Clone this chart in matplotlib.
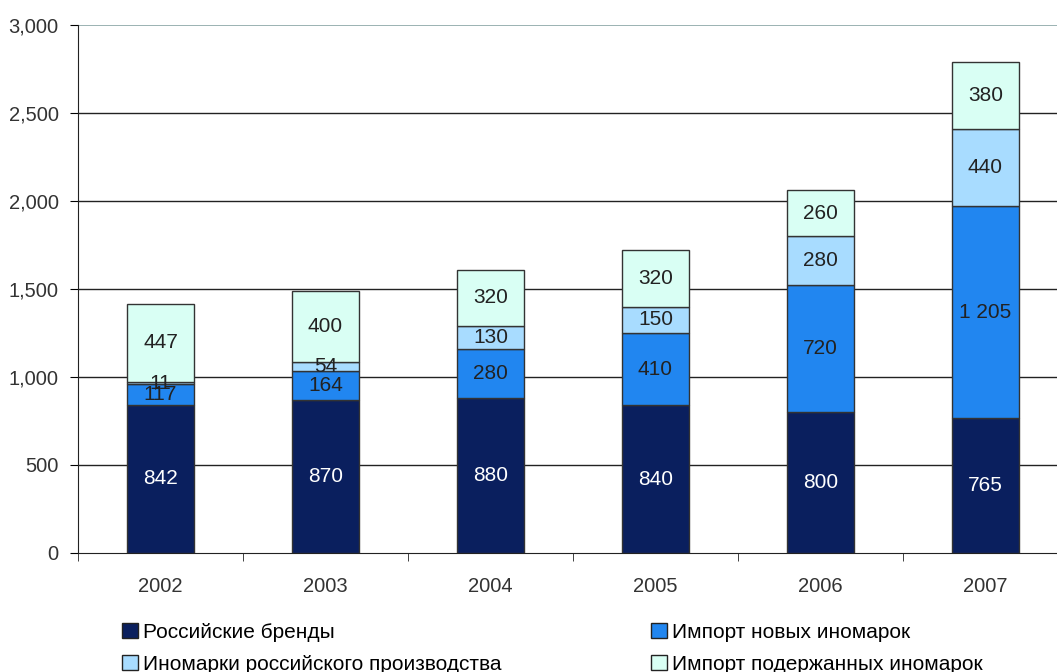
import matplotlib.pyplot as plt
import numpy as np
from matplotlib.patches import Patch
from matplotlib.ticker import FuncFormatter

plt.rcParams['font.family'] = ['Liberation Sans', 'DejaVu Sans']

years = ['2002', '2003', '2004', '2005', '2006', '2007']
ru_brands = [842, 870, 880, 840, 800, 765]
new_imports = [117, 164, 280, 410, 720, 1205]
ru_made_foreign = [11, 54, 130, 150, 280, 440]
used_imports = [447, 400, 320, 320, 260, 380]

series = [
    ('Российские бренды', ru_brands, '#0a1f5e', 'white'),
    ('Импорт новых иномарок', new_imports, '#2186f0', '#222222'),
    ('Иномарки российского производства', ru_made_foreign, '#a8dcff', '#222222'),
    ('Импорт подержанных иномарок', used_imports, '#d9fff4', '#222222'),
]
value_labels = {
    'Импорт новых иномарок': ['117', '164', '280', '410', '720', '1 205'],
}

fig = plt.figure(figsize=(10.57, 6.72), dpi=100)
# plot area runs past the right edge of the figure
ax = fig.add_axes([78 / 1057, 1 - 553 / 672, 990 / 1057, 528 / 672])

x = np.arange(len(years))
bottom = np.zeros(len(years))
for name, vals, color, tcolor in series:
    vals = np.array(vals, dtype=float)
    ax.bar(x, vals, width=0.41, bottom=bottom, color=color,
           edgecolor='#333333', linewidth=1.0, zorder=3)
    labels = value_labels.get(name, [str(int(v)) for v in vals])
    for xi, b, v, lab in zip(x, bottom, vals, labels):
        ax.text(xi, b + v / 2, lab, ha='center', va='center',
                fontsize=15, color=tcolor, zorder=4)
    bottom += vals

ax.set_xlim(-0.5, len(years) - 0.5)
ax.set_ylim(0, 3000)
ax.set_yticks(np.arange(0, 3001, 500))
ax.yaxis.set_major_formatter(FuncFormatter(lambda v, p: f'{int(v):,}'))
ax.set_xticks(x)
ax.set_xticklabels(years)
ax.set_xticks(np.arange(-0.5, len(years), 1), minor=True)
ax.tick_params(axis='x', which='major', length=0, pad=17, labelsize=14.5, labelcolor='#333333')
ax.tick_params(axis='x', which='minor', length=6, direction='out', color='#222222')
ax.tick_params(axis='y', length=6, direction='out', labelsize=14.5, labelcolor='#333333', pad=8)

for v in np.arange(500, 3000, 500):
    ax.axhline(v, color='#222222', linewidth=1.0, zorder=1)
ax.axhline(3000, color='#8aa5a5', linewidth=1.2, zorder=1)

for s in ['top', 'right']:
    ax.spines[s].set_visible(False)
ax.spines['left'].set_color('#222222')
ax.spines['bottom'].set_color('#222222')

handles = [Patch(facecolor=c, edgecolor='#222222', label=n) for n, _, c, _ in series]
order = [0, 2, 1, 3]
fig.legend([handles[i] for i in order], [series[i][0] for i in order],
           ncol=2, loc='upper left', bbox_to_anchor=(122 / 1057, 1 - 623 / 672),
           frameon=False, fontsize=15, handlelength=0.75, handleheight=0.75,
           handletextpad=0.25, columnspacing=7.2, labelspacing=0.6,
           borderaxespad=0, borderpad=0)

fig.savefig('out.png', dpi=100)
